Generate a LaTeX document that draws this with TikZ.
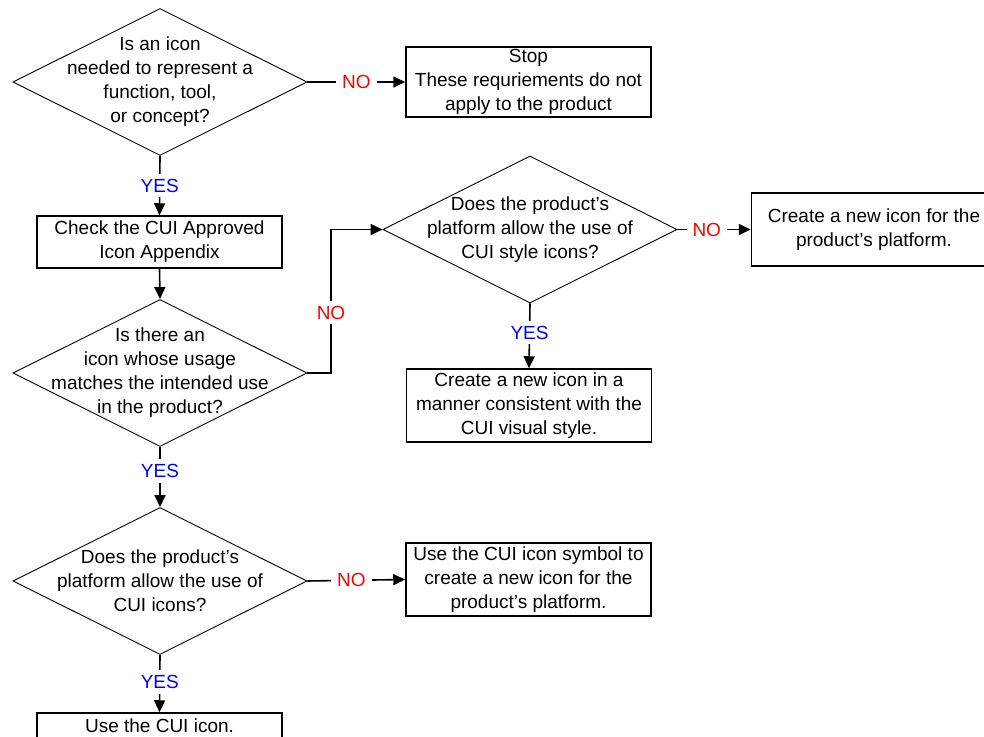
\documentclass[tikz,border=0pt]{standalone}
\usepackage{fontspec}
\setmainfont{Liberation Sans}
\usetikzlibrary{shapes.geometric, arrows.meta, positioning}

\begin{document}
\begin{tikzpicture}[
    x=1bp, y=-1bp,
    every node/.style={font=\fontsize{19bp}{24bp}\selectfont},
    box/.style={draw, line width=1.5bp, minimum width=245bp, inner sep=0pt, align=center},
    decision/.style={diamond, draw, line width=0.9bp, minimum width=294bp, minimum height=147bp, inner sep=0pt},
    ask/.style={align=center, inner sep=0pt},
    arrow/.style={-{Triangle[length=12bp, width=11bp]}, line width=1.6bp},
    yeslabel/.style={fill=white, text=blue, inner xsep=6bp, inner ysep=5bp},
    nolabel/.style={fill=white, text=red, inner xsep=6bp, inner ysep=5bp}
]
    \useasboundingbox (0,0) rectangle (984,737);
    \clip (0,0) rectangle (984,737);

    % questions
    \node[decision, label={[ask]center:{Is an icon\\needed to represent a\\function, tool,\\or concept?}}] (needicon) at (160,82) {};
    \node[decision, label={[ask]center:{Is there an\\icon whose usage\\matches the intended use\\in the product?}}] (match) at (160,373) {};
    \node[decision, label={[ask]center:{Does the product's\\platform allow the use of\\CUI style icons?}}] (styleok) at (530,229.5) {};
    \node[decision, label={[ask]center:{Does the product's\\platform allow the use of\\CUI icons?}}] (iconok) at (160,581) {};

    % actions
    \node[box, minimum height=70bp] (stop) at (528.5,82) {Stop\\These requriements do not\\apply to the product};
    \node[box, minimum height=52bp] (check) at (159.5,242) {Check the CUI Approved\\Icon Appendix};
    \node[box, minimum height=73bp] (platnew) at (874,229.5) {Create a new icon for the\\product's platform.};
    \node[box, minimum height=73bp] (stylenew) at (529,405.5) {Create a new icon in a\\manner consistent with the\\CUI visual style.};
    \node[box, minimum height=73bp] (symbolnew) at (528.5,579.5) {Use the CUI icon symbol to\\create a new icon for the\\product's platform.};
    \node[box, minimum height=26bp] (usecui) at (159.5,726) {Use the CUI icon.};

    \coordinate (bend) at (331,229.5);

    % flow
    \draw[arrow] (needicon.east) -- node[nolabel] {NO} (stop.west);
    \draw[arrow] (needicon.south) -- node[yeslabel] {YES} (check.north);
    \draw[arrow] (check.south) -- (match.north);
    \draw[arrow] (match.east) -| node[nolabel, pos=0.71] {NO} (bend) -- (styleok.west);
    \draw[arrow] (styleok.east) -- node[nolabel, pos=0.4] {NO} (platnew.west);
    \draw[arrow] (styleok.south) -- node[yeslabel, pos=0.45] {YES} (stylenew.north);
    \draw[arrow] (match.south) -- node[yeslabel, pos=0.4] {YES} (iconok.north);
    \draw[arrow] (iconok.east) -- node[nolabel, pos=0.45] {NO} (symbolnew.west);
    \draw[arrow] (iconok.south) -- node[yeslabel, pos=0.47] {YES} (usecui.north);
\end{tikzpicture}
\end{document}
